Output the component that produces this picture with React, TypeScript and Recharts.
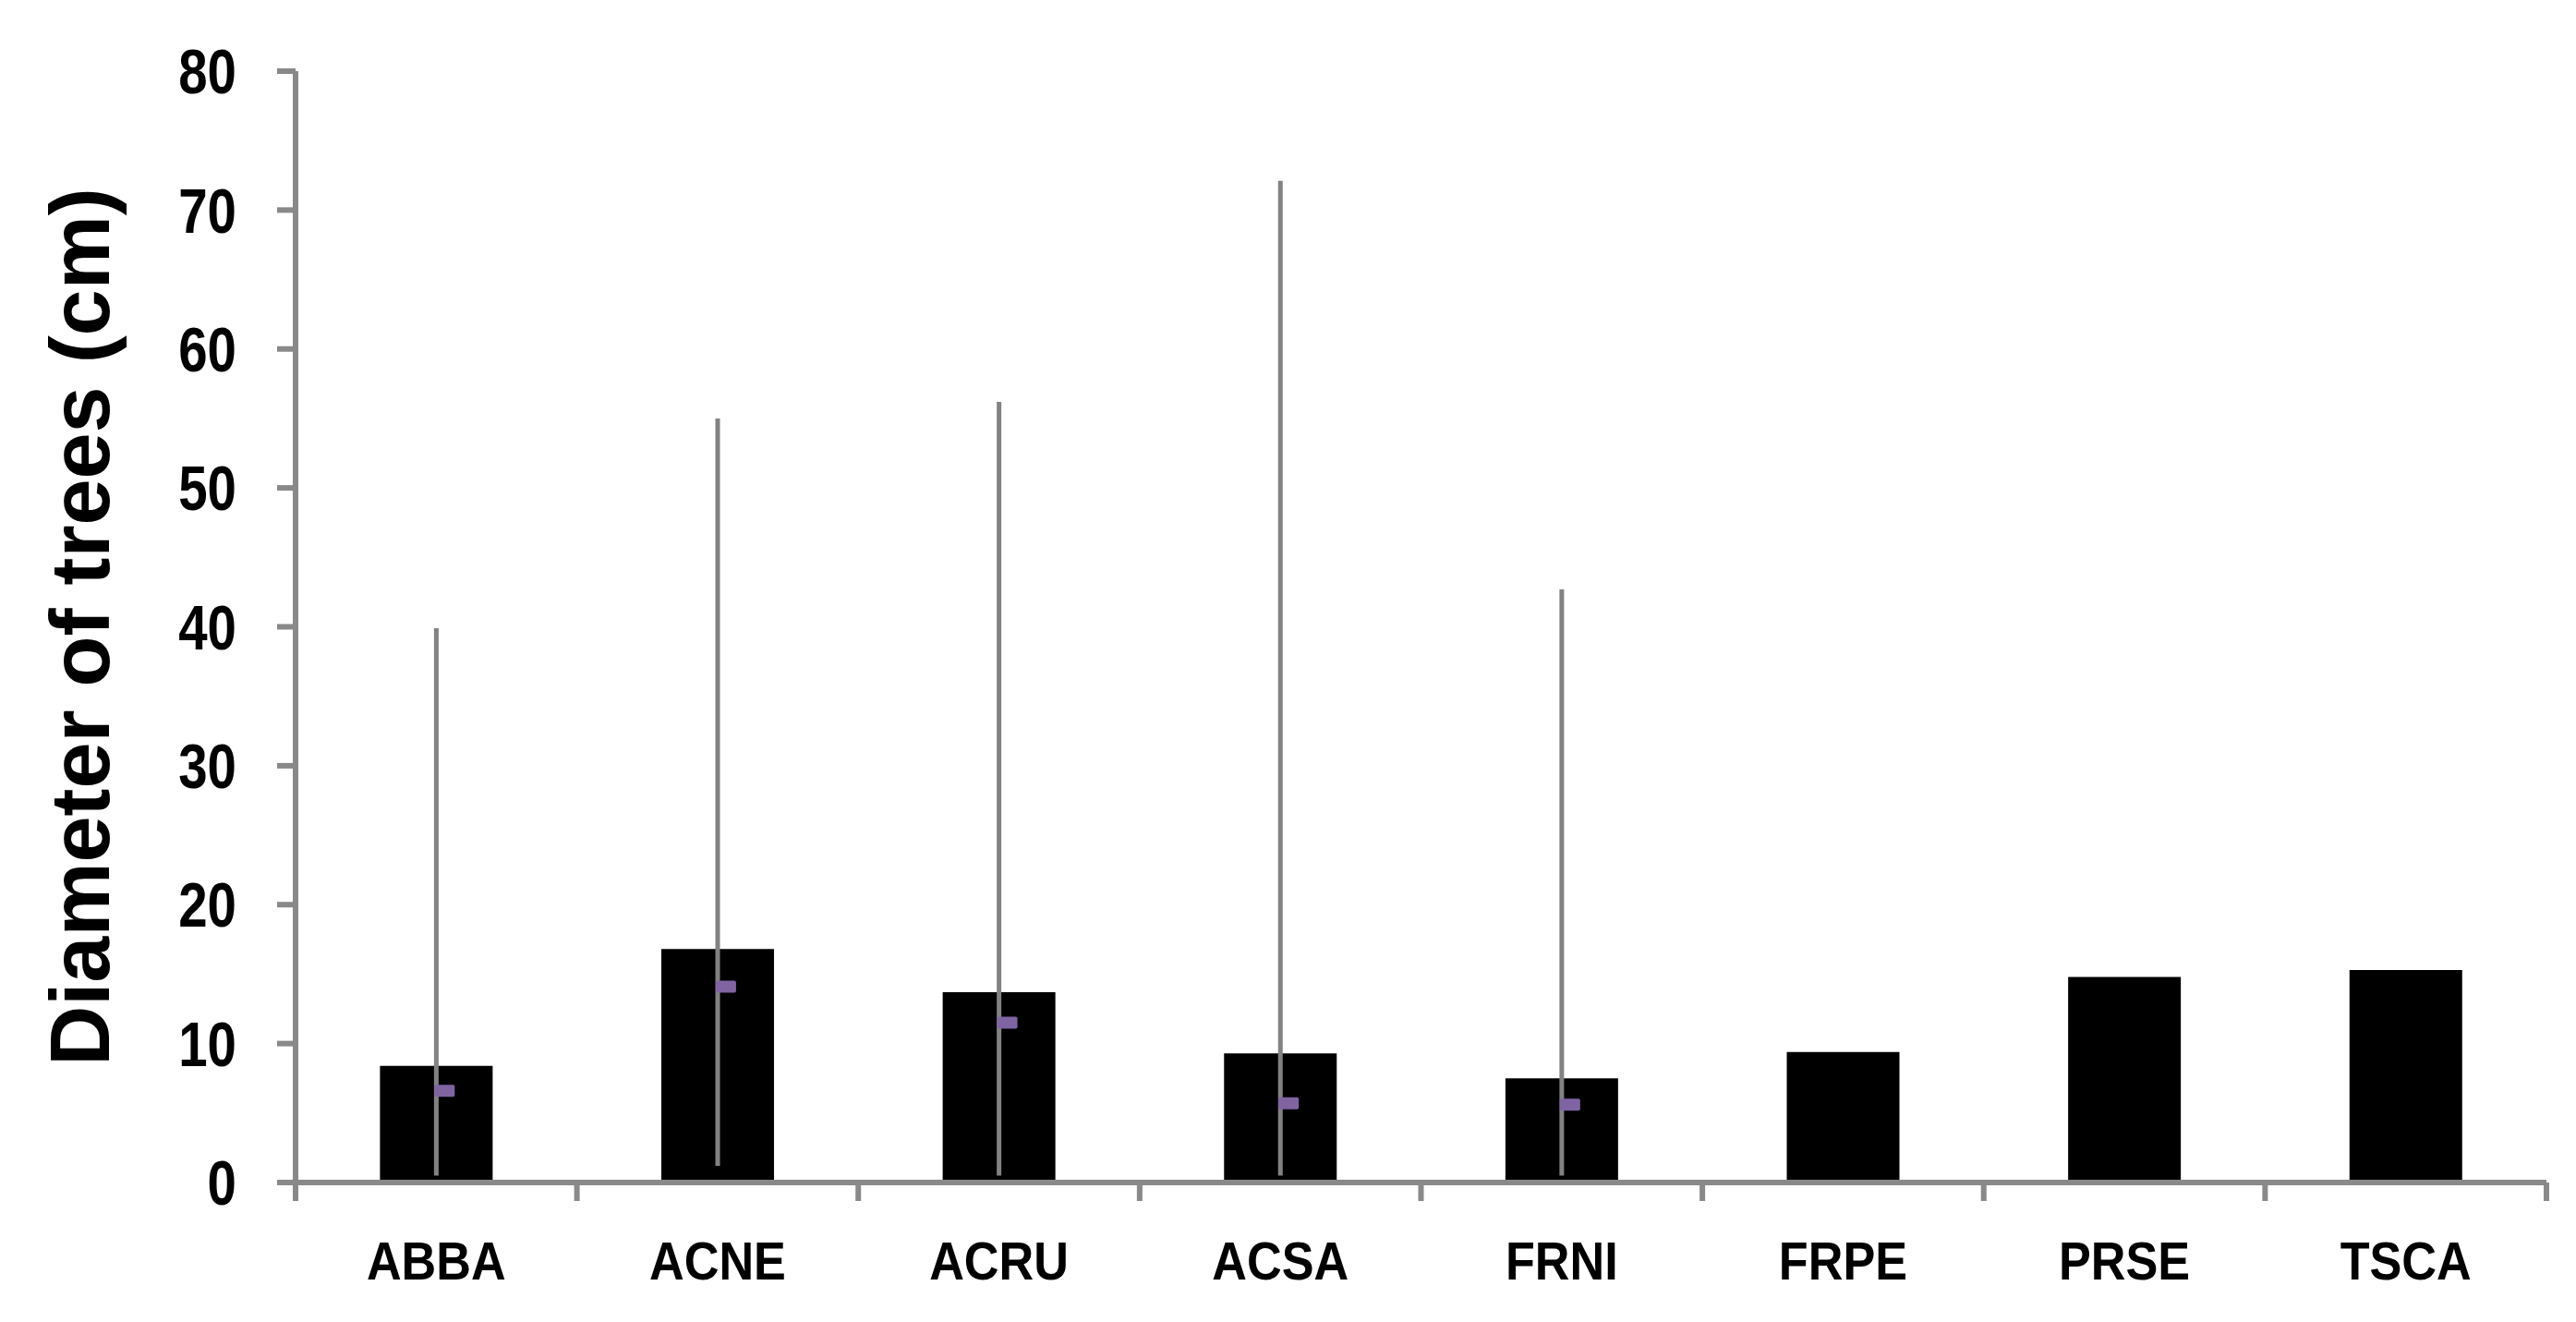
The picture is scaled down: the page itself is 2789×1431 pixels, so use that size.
import React from 'react'
import { ComposedChart, Bar, Line, XAxis, YAxis, ErrorBar, Label } from 'recharts'

const categories = ['ABBA', 'ACNE', 'ACRU', 'ACSA', 'FRNI', 'FRPE', 'PRSE', 'TSCA']
const meanDiameter = [8.4, 16.8, 13.7, 9.3, 7.5, 9.4, 14.8, 15.3]
const medianDiameter = [6.6, 14.1, 11.5, 5.7, 5.6, null, null, null]
const minDiameter = [0.5, 1.2, 0.5, 0.5, 0.5, null, null, null]
const maxDiameter = [39.9, 55.0, 56.2, 72.1, 42.7, null, null, null]
const yTicks = [0, 10, 20, 30, 40, 50, 60, 70, 80]

const CHART_W = 2789
const CHART_H = 1431
const MARGIN = { top: 77, right: 32, left: 0, bottom: 0 }
const Y_AXIS_W = 320
const X_AXIS_H = 151
const BAND = (CHART_W - MARGIN.left - MARGIN.right - Y_AXIS_W) / categories.length

const AXIS_GRAY = '#898989'
const ERR_GRAY = '#828282'
const PURPLE = '#8064a2'
const FONT = '"Liberation Sans", Arial, sans-serif'

const data = categories.map((name, i) => {
  const mean = meanDiameter[i]
  const lo = minDiameter[i]
  const hi = maxDiameter[i]
  return {
    name,
    mean,
    median: medianDiameter[i],
    range: lo == null || hi == null ? null : [mean - lo, hi - mean],
  }
})

// category labels sit under the bars, tick marks go on the band edges
function CategoryTick(props: any) {
  const { x, y, payload, index } = props
  const last = index === categories.length - 1
  return (
    <g>
      <line x1={x - BAND / 2} x2={x - BAND / 2} y1={y} y2={y + 20} stroke={AXIS_GRAY} strokeWidth={6} />
      {last && (
        <line x1={x + BAND / 2} x2={x + BAND / 2} y1={y} y2={y + 20} stroke={AXIS_GRAY} strokeWidth={6} />
      )}
      <text
        transform={`translate(${x}, ${y + 64}) scale(0.9, 1)`}
        dy="0.71em"
        textAnchor="middle"
        fontFamily={FONT}
        fontWeight="bold"
        fontSize={58}
        fill="#000"
      >
        {payload.value}
      </text>
    </g>
  )
}

function ValueTick(props: any) {
  const { x, y, payload } = props
  return (
    <text
      transform={`translate(${x}, ${y}) scale(0.83, 1)`}
      dy="0.355em"
      textAnchor="end"
      fontFamily={FONT}
      fontWeight="bold"
      fontSize={68}
      fill="#000"
    >
      {payload.value}
    </text>
  )
}

function MedianMarker(props: any) {
  const { cx, cy, index } = props
  if (cy == null || cx == null || Number.isNaN(cy)) return <g key={`m-${index}`} />
  return <rect key={`m-${index}`} x={cx - 2} y={cy - 6.5} width={22} height={13} rx={2} fill={PURPLE} />
}

export default function App() {
  return (
    <div style={{ position: 'absolute', left: 0, top: 0, background: '#fff' }}>
      <ComposedChart width={CHART_W} height={CHART_H} data={data} margin={MARGIN} barCategoryGap="30%">
        <XAxis
          dataKey="name"
          height={X_AXIS_H}
          interval={0}
          tickLine={false}
          tickSize={0}
          tickMargin={0}
          axisLine={{ stroke: AXIS_GRAY, strokeWidth: 6 }}
          tick={<CategoryTick />}
        />
        <YAxis
          width={Y_AXIS_W}
          domain={[0, 80]}
          ticks={yTicks}
          interval={0}
          tickSize={20}
          tickMargin={44}
          tickLine={{ stroke: AXIS_GRAY, strokeWidth: 6 }}
          axisLine={{ stroke: AXIS_GRAY, strokeWidth: 6 }}
          tick={<ValueTick />}
        >
          <Label
            content={(p: any) => {
              const vb = p.viewBox
              const cx = vb.x + 118
              const cy = vb.y + vb.height / 2
              return (
                <text
                  x={cx}
                  y={cy}
                  transform={`rotate(-90, ${cx}, ${cy})`}
                  textAnchor="middle"
                  fontFamily={FONT}
                  fontWeight="bold"
                  fontSize={90}
                  fill="#000"
                >
                  Diameter of trees (cm)
                </text>
              )
            }}
          />
        </YAxis>
        <Bar dataKey="mean" fill="#000" isAnimationActive={false}>
          <ErrorBar dataKey="range" width={0} stroke={ERR_GRAY} strokeWidth={5} direction="y" />
        </Bar>
        <Line
          dataKey="median"
          stroke="none"
          dot={MedianMarker}
          activeDot={false}
          legendType="none"
          isAnimationActive={false}
        />
      </ComposedChart>
    </div>
  )
}
